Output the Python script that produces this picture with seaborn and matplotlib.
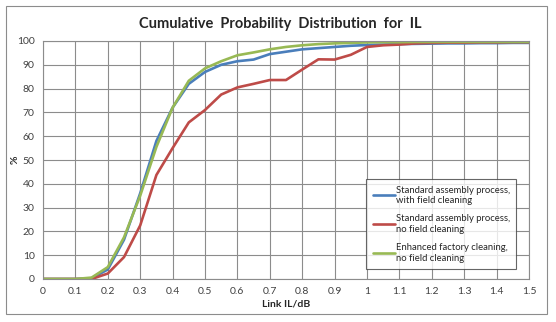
import numpy as np
import pandas as pd
import matplotlib
matplotlib.use("Agg")
import matplotlib.pyplot as plt
import seaborn as sns

link_il = [0.0, 0.05, 0.1, 0.15, 0.2, 0.25, 0.3, 0.35, 0.4, 0.45, 0.5, 0.55, 0.6, 0.65, 0.7, 0.75,
           0.8, 0.85, 0.9, 0.95, 1.0, 1.05, 1.1, 1.15, 1.2, 1.25, 1.3, 1.35, 1.4, 1.45, 1.5]
std_with_cleaning = [0, 0, 0, 0.3, 4, 16.5, 36, 58, 72, 82, 87, 90, 91.5, 92.2, 94.5, 95.5,
                     96.5, 97, 97.5, 98, 98.3, 98.5, 98.7, 98.8, 98.9, 99, 99, 99.1, 99.1, 99.2, 99.2]
std_no_cleaning = [0, 0, 0, 0, 2.3, 9.2, 22.5, 43.7, 55, 65.8, 71, 77.5, 80.5, 82, 83.6, 83.6,
                   88, 92.3, 92.2, 94.2, 97.5, 98.2, 98.5, 99, 99.2, 99.3, 99.3, 99.4, 99.4, 99.5, 99.5]
enh_no_cleaning = [0, 0, 0, 0.6, 5, 17.5, 35, 55.5, 72, 83.3, 88.5, 91.5, 94, 95.2, 96.5, 97.5,
                   98.2, 98.7, 99, 99.2, 99.4, 99.5, 99.5, 99.6, 99.6, 99.6, 99.6, 99.6, 99.6, 99.6, 99.6]
series_names = ["Standard assembly process,\nwith field cleaning",
                "Standard assembly process,\nno field cleaning",
                "Enhanced factory cleaning,\nno field cleaning"]
colors = ["#4A7EBB", "#BE4B48", "#98B954"]
x_ticks = [round(0.1 * i, 1) for i in range(16)]
x_tick_labels = ["0", "0.1", "0.2", "0.3", "0.4", "0.5", "0.6", "0.7", "0.8", "0.9", "1",
                 "1.1", "1.2", "1.3", "1.4", "1.5"]
y_ticks = list(range(0, 101, 10))

df = pd.concat([
    pd.DataFrame({"x": link_il, "y": vals, "series": name})
    for name, vals in zip(series_names, [std_with_cleaning, std_no_cleaning, enh_no_cleaning])
])

sns.set_style("white")
plt.rcParams["font.family"] = ["Lato", "DejaVu Sans"]

fig = plt.figure(figsize=(5.56, 3.22), dpi=100)
W, H = 556, 322
ax = fig.add_axes([43 / W, 1 - 279 / H, (529 - 43) / W, (279 - 41) / H])

sns.lineplot(data=df, x="x", y="y", hue="series", palette=colors, linewidth=1.9,
             ax=ax, legend=True)

ax.set_xlim(0, 1.5)
ax.set_ylim(0, 100)
ax.set_xticks(x_ticks)
ax.set_xticklabels(x_tick_labels)
ax.set_yticks(y_ticks)
ax.grid(True, color="#8C8C8C", linewidth=0.8)
ax.set_axisbelow(True)
for s in ax.spines.values():
    s.set_color("#8C8C8C")
    s.set_linewidth(0.8)
ax.tick_params(axis="both", length=0, labelsize=7.5, colors="#404040", pad=6)
for lbl in ax.get_xticklabels() + ax.get_yticklabels():
    lbl.set_color("#404040")

ax.set_xlabel("Link IL/dB", fontsize=7.5, fontweight="bold", labelpad=2)
ax.set_ylabel("%", fontsize=7.5, fontweight="bold")
ax.yaxis.set_label_coords((20 - 43) / (529 - 43), 0.5)

fig.text(280 / W, 1 - 24 / H, "Cumulative  Probability  Distribution  for  IL",
         ha="center", va="center", fontsize=10.5, fontweight="bold")

leg = ax.legend(loc="lower right", bbox_to_anchor=(521 / W, 1 - 274 / H),
                bbox_transform=fig.transFigure, fontsize=6.8, frameon=True,
                fancybox=False, edgecolor="#404040", handlelength=2.3,
                handletextpad=0.1, borderpad=0.7, labelspacing=1.0, title=None)
leg.get_frame().set_linewidth(0.8)

border = plt.Rectangle((6 / W, 1 - 314 / H), (547 - 6) / W, (314 - 6) / H,
                       transform=fig.transFigure, fill=False, edgecolor="#8C8C8C",
                       linewidth=0.8)
fig.patches.append(border)

fig.savefig("out.png", dpi=100, facecolor="white")
